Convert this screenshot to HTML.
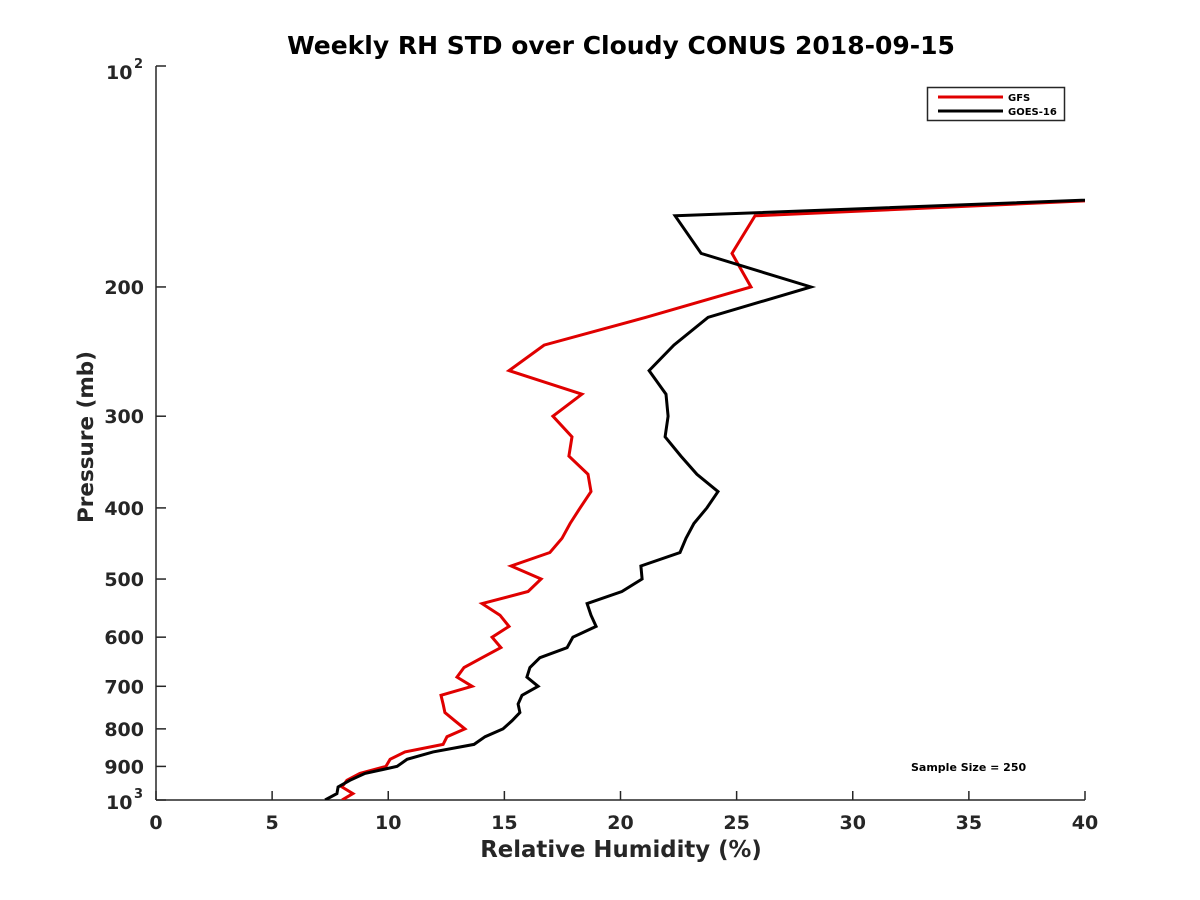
<!DOCTYPE html>
<html><head><meta charset="utf-8"><style>
html,body{margin:0;padding:0;background:#fff;}
svg{display:block;font-family:"DejaVu Sans","Liberation Sans",sans-serif;font-weight:bold;}
</style></head><body>
<svg id="chart" width="1200" height="900" viewBox="0 0 1200 900">
<rect width="1200" height="900" fill="#fff"/>
<defs><clipPath id="plotclip"><rect x="156" y="66" width="929" height="734"/></clipPath></defs>
<text x="621" y="54" text-anchor="middle" font-size="25" fill="#000">Weekly RH STD over Cloudy CONUS 2018-09-15</text>
<g id="axes"></g>
<g id="series" clip-path="url(#plotclip)"></g>
<text x="621" y="857" text-anchor="middle" font-size="22.8" fill="#262626">Relative Humidity (%)</text>
<text transform="translate(93,437) rotate(-90)" text-anchor="middle" font-size="21.5" fill="#262626">Pressure (mb)</text>
<g>
<rect x="927.5" y="87.5" width="137" height="33" fill="#fff" stroke="#262626" stroke-width="1.5"/>
<line x1="938" y1="97" x2="1003" y2="97" stroke="#e00000" stroke-width="3"/>
<text x="1008" y="101" font-size="10" fill="#000">GFS</text>
<line x1="938" y1="111" x2="1003" y2="111" stroke="#000" stroke-width="3"/>
<text x="1008" y="115" font-size="10" fill="#000">GOES-16</text>
</g>
<text x="911" y="771" font-size="11" fill="#000">Sample Size = 250</text>
</svg>
<script>
const pressure = [150,160,180,200,220,240,260,280,300,320,340,360,380,400,420,440,460,480,500,520,540,560,580,600,620,640,660,680,700,720,740,760,780,800,820,840,860,880,900,920,940,960,980,1000];
const gfsRH = [45.3,25.79,24.80,25.62,21.10,16.71,15.20,18.34,17.09,17.91,17.78,18.60,18.73,18.26,17.83,17.48,16.96,15.29,16.58,16.02,14.04,14.81,15.20,14.47,14.85,14.04,13.26,12.96,13.61,12.27,12.36,12.44,12.87,13.30,12.53,12.36,10.72,10.08,9.90,8.78,8.22,8.01,8.48,8.01];
const goesRH = [45.5,22.35,23.47,28.20,23.77,22.30,21.23,21.96,22.05,21.92,22.60,23.29,24.20,23.72,23.16,22.82,22.56,20.88,20.93,20.06,18.56,18.73,18.95,17.95,17.70,16.53,16.10,15.97,16.45,15.76,15.59,15.67,15.33,14.94,14.17,13.69,11.93,10.81,10.38,9.00,8.35,7.84,7.79,7.28];
const xTicks = [0,5,10,15,20,25,30,35,40];
const yTicks = [100,200,300,400,500,600,700,800,900,1000];
const yTickLabels = ["","200","300","400","500","600","700","800","900",""];

const L=156,R=1085,T=66,B=800;
function xs(v){return L+(v-0)/(40-0)*(R-L);}
function ys(p){return T+(Math.log10(p)-2)/(3-2)*(B-T);}
const NS="http://www.w3.org/2000/svg";
function mk(tag,attrs,parent,text){const e=document.createElementNS(NS,tag);for(const k in attrs)e.setAttribute(k,attrs[k]);if(text!==undefined)e.textContent=text;parent.appendChild(e);return e;}
const axes=document.getElementById('axes');
let e;
e=mk('line',{x1:L,y1:B,x2:R,y2:B,stroke:'#262626','stroke-width':1.5},axes);


e=mk('line',{x1:L,y1:T,x2:L,y2:B,stroke:'#262626','stroke-width':1.5},axes);


xTicks.forEach(v=>{
  const x=xs(v);
  e=mk('line',{x1:x,y1:B,x2:x,y2:B-9,stroke:'#262626','stroke-width':1.5},axes);
  
  
  e=mk('text',{x:x,y:B+29,'text-anchor':'middle','font-size':19,fill:'#262626'},axes,String(v));
  
  
});
yTicks.forEach((p,i)=>{
  const y=ys(p);
  e=mk('line',{x1:L,y1:y,x2:L+10,y2:y,stroke:'#262626','stroke-width':1.5},axes);
  
  
  if(yTickLabels[i]){
    e=mk('text',{x:L-12,y:y+7,'text-anchor':'end','font-size':19,fill:'#262626'},axes,yTickLabels[i]);
    
    
  }
});
e=mk('text',{x:106,y:79,'font-size':19,fill:'#262626'},axes,'10');


e=mk('text',{x:134,y:68,'font-size':13,fill:'#262626'},axes,'2');


e=mk('text',{x:106,y:809,'font-size':19,fill:'#262626'},axes,'10');


e=mk('text',{x:134,y:798,'font-size':13,fill:'#262626'},axes,'3');



const series=document.getElementById('series');
function pts(vals){return vals.map((v,i)=>xs(v).toFixed(1)+','+ys(pressure[i]).toFixed(1)).join(' ');}
e=mk('polyline',{points:pts(gfsRH),fill:'none',stroke:'#e00000','stroke-width':3,'stroke-linejoin':'miter'},series);


e=mk('polyline',{points:pts(goesRH),fill:'none',stroke:'#000','stroke-width':3,'stroke-linejoin':'miter'},series);


</script>
</body></html>
